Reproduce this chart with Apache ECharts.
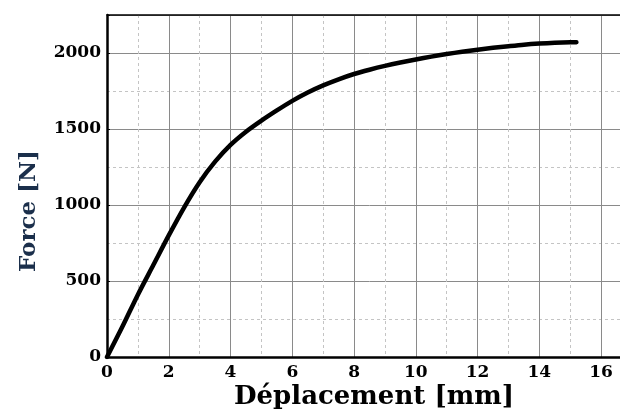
<!DOCTYPE html>
<html>
<head>
<meta charset="utf-8">
<script src="https://cdn.jsdelivr.net/npm/echarts@6/dist/echarts.min.js"></script>
<style>
  html, body { margin: 0; padding: 0; background: #fff; }
  #wrap { width: 620px; height: 415px; overflow: hidden; }
  #chart { width: 650px; height: 415px; }
</style>
</head>
<body>
<div id="wrap"><div id="chart"></div></div>
<script>
// Load–displacement curve (force in N vs displacement in mm), sampled every 0.5 mm
const displacement = [0, 0.5, 1.0, 1.5, 2.0, 2.5, 3.0, 3.5, 4.0, 4.5, 5.0, 5.5, 6.0, 6.5, 7.0, 7.5, 8.0, 8.5, 9.0, 9.5, 10.0, 10.5, 11.0, 11.5, 12.0, 12.5, 13.0, 13.5, 14.0, 14.5, 15.0, 15.2];
const force        = [0, 200, 410, 605, 800, 985, 1150, 1285, 1395, 1482, 1555, 1622, 1685, 1740, 1787, 1827, 1862, 1890, 1915, 1937, 1957, 1976, 1993, 2008, 2022, 2034, 2045, 2055, 2062, 2067, 2070, 2071];
const xTicks = [0, 2, 4, 6, 8, 10, 12, 14, 16];
const yTicks = [0, 500, 1000, 1500, 2000];

const points = displacement.map((d, i) => [d, force[i]]);

const serif = '"DejaVu Serif", serif';
const chart = echarts.init(document.getElementById('chart'), null, { renderer: 'canvas' });

const gridLine = { show: true, lineStyle: { color: '#8a8a8a', width: 1 } };
const minorGridLine = { show: true, lineStyle: { color: '#c4c4c4', width: 1, type: [3, 3] } };
const tickFont = { fontFamily: serif, fontWeight: 'bold', fontSize: 17, color: '#000' };

// The plot frame runs past the right edge of the visible page (x up to 17 mm).
chart.setOption({
  animation: false,
  grid: { left: 107, right: 18, top: 15, bottom: 58 },
  xAxis: [{
    type: 'value', min: 0, max: 17, interval: 2,
    axisLine: { show: true, onZero: false, lineStyle: { color: '#000', width: 2.5 } },
    axisTick: { show: false },
    minorTick: { show: false, splitNumber: 2 },
    axisLabel: Object.assign({ margin: 7,
      formatter: v => xTicks.includes(v) ? String(v) : '' }, tickFont),
    splitLine: gridLine,
    minorSplitLine: minorGridLine
  }, {
    // top frame line
    type: 'value', position: 'top', min: 0, max: 17,
    axisLine: { show: true, onZero: false, lineStyle: { color: '#000', width: 1.5 } },
    axisTick: { show: false }, axisLabel: { show: false }, splitLine: { show: false }
  }],
  yAxis: {
    type: 'value', min: 0, max: 2250, interval: 500,
    axisLine: { show: true, onZero: false, lineStyle: { color: '#000', width: 2.5 } },
    axisTick: { show: true, inside: true, length: 3, lineStyle: { color: '#000' } },
    minorTick: { show: false, splitNumber: 2 },
    axisLabel: Object.assign({ margin: 6,
      formatter: v => yTicks.includes(v) ? String(v) : '' }, tickFont),
    splitLine: gridLine,
    minorSplitLine: minorGridLine
  },
  graphic: [{
    type: 'text', x: 29, y: 211, rotation: Math.PI / 2,
    style: {
      text: 'Force [N]', fill: '#1b2f4b',
      font: 'bold 23px "DejaVu Serif", serif',
      align: 'center', verticalAlign: 'middle'
    }
  }, {
    type: 'text', x: 374, y: 397,
    style: {
      text: 'Déplacement [mm]', fill: '#000',
      font: 'bold 26px "DejaVu Serif", serif',
      align: 'center', verticalAlign: 'middle'
    }
  }],
  series: [{
    type: 'line',
    xAxisIndex: 0,
    data: points,
    smooth: 0.3,
    showSymbol: false,
    lineStyle: { color: '#000', width: 4.5, cap: 'round', join: 'round' }
  }]
});
</script>
</body>
</html>
